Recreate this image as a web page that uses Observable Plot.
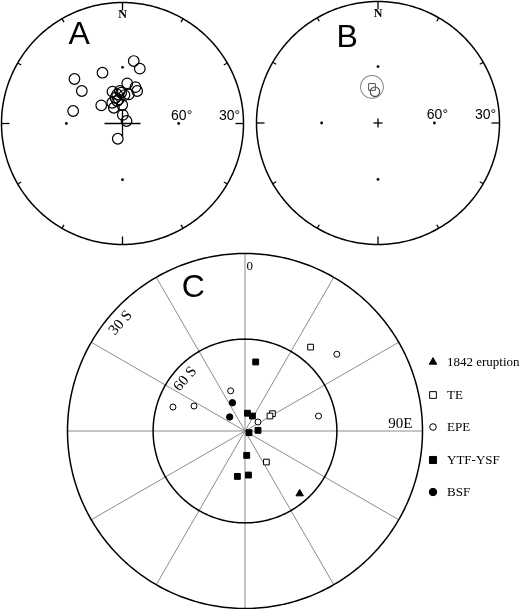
<!DOCTYPE html>
<html><head><meta charset="utf-8">
<script src="https://cdn.jsdelivr.net/npm/d3@7"></script>
<script src="https://cdn.jsdelivr.net/npm/@observablehq/plot@0.6"></script>
<style>
html,body{margin:0;padding:0;background:#fff;}
#root{position:relative;width:520px;height:609px;overflow:hidden;background:#fff;}
#root .panel{position:absolute;will-change:transform;}
#root svg{max-width:none;}
#root text{-webkit-font-smoothing:antialiased;}
.leg{position:absolute;will-change:transform;font-family:"Liberation Serif","Times New Roman",serif;font-size:13px;color:#000;height:16px;line-height:16px;white-space:nowrap;}
.leg svg{position:absolute;left:-20px;top:1px;}
</style></head><body><div id="root"></div>
<script>
// ---------------- DATA ----------------
// Panel A: site-mean directions (declination, inclination in degrees)
const aDec = [10.2, 17.5, 312.8, 338.5, 308.6, 284.2, 310.5, 6.7, 19.6, 24.3, 12.2, 342.5, 349.7, 357.6, 344.8, 351.3, 331.2, 359.1, 2.0, 58.0, 197.2, 346.7, 4.0, 355.3, 333.7];
const aInc = [56.3, 59.3, 55.3, 60.8, 62.1, 62.7, 74.8, 68.2, 69.1, 70.7, 73.8, 71.9, 73.9, 73.3, 75.5, 76.7, 80.2, 79.9, 85.3, 87.4, 81.3, 77.4, 74.5, 72.3, 77.4];
// Panel B: overall mean (square) with a95 cone, and reference direction (circle)
const bMeanDec = [350.5], bMeanInc = [70.3], bA95 = [6];
const bRefDec = [354.5], bRefInc = [73.0];
// Panel C: groups, azimuths and inclinations
const cGroups = ["1842 eruption", "TE", "EPE", "YTF-YSF", "BSF"];
const cAz = [
  [138.9],
  [38.0, 57.7, 59.0, 145.4],
  [50.1, 340.3, 288.4, 296.1, 78.5, 55.3],
  [8.8, 7.7, 26.3, 113, 87, 176, 189.5, 175.6],
  [336, 312.5]
];
const cInc = [
  [62.9],
  [55.1, 79.5, 80.6, 77.8],
  [50.6, 76.2, 65.3, 71.6, 65.6, 84.9],
  [67.3, 84.2, 84.6, 88.6, 85.8, 82.1, 75.1, 75.7],
  [80.0, 83.3]
];
// grid / label values
const tickAz = [0, 30, 60, 90, 120, 150, 180, 210, 240, 270, 300, 330];
const gridDotAz = [0, 90, 180, 270];
const stereoIncLabels = ["60°", "30°"];
const stereoIncLabelVals = [60, 30];
const cRadialAz = [0, 30, 60, 90, 120, 150, 180, 210, 240, 270, 300, 330];
const cCircleInc = [30, 60];

// ---------------- STYLE ----------------
const cSymbol = ["triangle", "square", "circle", "square", "circle"];
const cFilled = [true, false, false, true, true];
const cRadius = [2.8, 3.8, 3.3, 4.0, 3.7];
const incLabelDx = [3, -14];

// ---------------- PROJECTIONS ----------------
const rad = Math.PI / 180;
const TAN30 = Math.tan(30 * rad), SIN30 = Math.sin(30 * rad);
const wulff = (dec, inc) => { const r = Math.tan((90 - inc) / 2 * rad) / TAN30; return [r * Math.sin(dec * rad), r * Math.cos(dec * rad)]; };
const schmidt = (az, inc) => { const r = Math.sin((90 - inc) / 2 * rad) / SIN30; return [r * Math.sin(az * rad), r * Math.cos(az * rad)]; };
function smallCircle(dec, inc, a) {
  const D = dec * rad, I = inc * rad, A = a * rad;
  const m = [Math.cos(I) * Math.sin(D), Math.cos(I) * Math.cos(D), Math.sin(I)];
  const u = [Math.cos(D), -Math.sin(D), 0];
  const v = [m[1] * u[2] - m[2] * u[1], m[2] * u[0] - m[0] * u[2], m[0] * u[1] - m[1] * u[0]];
  return d3.range(0, 361, 4).map(t => {
    const T = t * rad;
    const p = m.map((mi, k) => Math.cos(A) * mi + Math.sin(A) * (Math.cos(T) * u[k] + Math.sin(T) * v[k]));
    return wulff(Math.atan2(p[0], p[1]) / rad, Math.asin(p[2]) / rad);
  });
}
const ring = d3.range(0, 361, 1);

const root = document.getElementById("root");
function place(svg, left, top) {
  const div = document.createElement("div");
  div.className = "panel"; div.style.left = left + "px"; div.style.top = top + "px";
  div.appendChild(svg); root.appendChild(div);
}
function panelPlot(R, pad, marks) {
  const ext = (R + pad) / R, size = 2 * (R + pad);
  return Plot.plot({
    width: size, height: size, margin: 0,
    x: {domain: [-ext, ext], axis: null}, y: {domain: [-ext, ext], axis: null},
    style: "background:none;overflow:visible;max-width:none;",
    marks
  });
}
const SANS = "Liberation Sans, Arial, sans-serif";
const SERIF = "Liberation Serif, Times New Roman, serif";

function stereoFrame(R, pad, cx, cy, letter, letterX, letterY, crossH, crossV) {
  const ticks = tickAz.map(a => ({a, len: (a % 90 === 0 ? 8 : 4) / R}));
  return [
    Plot.line(ring, {x: a => Math.sin(a * rad), y: a => Math.cos(a * rad), stroke: "black", strokeWidth: 1.5}),
    Plot.link(ticks, {x1: d => Math.sin(d.a * rad), y1: d => Math.cos(d.a * rad), x2: d => (1 - d.len) * Math.sin(d.a * rad), y2: d => (1 - d.len) * Math.cos(d.a * rad), stroke: "black", strokeWidth: 1.3}),
    Plot.dot(gridDotAz, {x: a => wulff(a, 60)[0], y: a => wulff(a, 60)[1], r: 1.4, fill: "black", stroke: "none"}),
    Plot.link([0], {x1: () => -crossH / R, x2: () => crossH / R, y1: () => 0, y2: () => 0, stroke: "black", strokeWidth: 1.3}),
    Plot.link([0], {x1: () => 0, x2: () => 0, y1: () => -crossV / R, y2: () => crossV / R, stroke: "black", strokeWidth: 1.3}),
    Plot.text(["N"], {x: () => 0, y: () => 1, dy: 12, text: d => d, fontFamily: SERIF, fontWeight: "bold", fontSize: 12, lineAnchor: "middle", fill: "black"}),
    ...stereoIncLabelVals.map((v, i) => Plot.text([v], {x: v => wulff(90, v)[0], y: v => wulff(90, v)[1], text: () => stereoIncLabels[i], dx: incLabelDx[i], dy: -4, fontFamily: SANS, fontSize: 14, lineAnchor: "bottom", fill: "black"})),
    Plot.text([letter], {frameAnchor: "top-left", dx: letterX - (cx - R - pad), dy: letterY - (cy - R - pad), text: d => d, fontFamily: SANS, fontSize: 32, textAnchor: "start", lineAnchor: "bottom", fill: "black"})
  ];
}

// ---------- Panel A ----------
const RA = 121, padA = 4, cxA = 122, cyA = 122.5;
const aData = aDec.map((d, i) => ({dec: d, inc: aInc[i]}));
const marksA = stereoFrame(RA, padA, cxA, cyA, "A", 68, 43, 18, 13);
marksA.push(Plot.dot(aData, {x: d => wulff(d.dec, d.inc)[0], y: d => wulff(d.dec, d.inc)[1], r: 5.3, stroke: "black", strokeWidth: 1.2, fill: "none"}));
place(panelPlot(RA, padA, marksA), cxA - RA - padA, cyA - RA - padA);

// ---------- Panel B ----------
const RB = 121.5, padB = 4, cxB = 377.5, cyB = 122.5;
const marksB = stereoFrame(RB, padB, cxB, cyB, "B", 336, 46, 4.5, 4.5);
marksB.push(
  Plot.line(smallCircle(bMeanDec[0], bMeanInc[0], bA95[0]), {x: p => p[0], y: p => p[1], stroke: "#8a8a8a", strokeWidth: 1.1}),
  Plot.dot(bMeanDec.map((d, i) => ({dec: d, inc: bMeanInc[i]})), {x: d => wulff(d.dec, d.inc)[0], y: d => wulff(d.dec, d.inc)[1], symbol: "square", r: 3.8, stroke: "#555", strokeWidth: 1, fill: "none"}),
  Plot.dot(bRefDec.map((d, i) => ({dec: d, inc: bRefInc[i]})), {x: d => wulff(d.dec, d.inc)[0], y: d => wulff(d.dec, d.inc)[1], r: 4.7, stroke: "#444", strokeWidth: 1.1, fill: "none"})
);
place(panelPlot(RB, padB, marksB), cxB - RB - padB, cyB - RB - padB);

// ---------- Panel C ----------
const RC = 177.5, padC = 3, cxC = 244.3, cyC = 430;
const cData = [];
cGroups.forEach((g, gi) => cAz[gi].forEach((az, k) => cData.push({g, gi, az, inc: cInc[gi][k]})));
const circleRings = cCircleInc.flatMap(inc => ring.map(a => ({inc, a})));
const inset = (az, inc, px) => { const p = schmidt(az, inc); const r = Math.hypot(p[0], p[1]); const f = (r - px / RC) / r; return [p[0] * f, p[1] * f]; };
const marksC = [
  Plot.link(cRadialAz, {x1: () => 0, y1: () => 0, x2: a => schmidt(a, 30)[0], y2: a => schmidt(a, 30)[1], stroke: "#8c8c8c", strokeWidth: 1}),
  Plot.line(circleRings, {x: d => schmidt(d.a, d.inc)[0], y: d => schmidt(d.a, d.inc)[1], z: "inc", stroke: "black", strokeWidth: 1.5}),
  Plot.dot(cData, {x: d => schmidt(d.az, d.inc)[0], y: d => schmidt(d.az, d.inc)[1], symbol: d => cSymbol[d.gi], r: d => cRadius[d.gi], fill: d => cFilled[d.gi] ? "black" : "white", stroke: "black", strokeWidth: 1}),
  Plot.text(["0"], {x: () => 0, y: () => 1, dx: 4.7, dy: 12, text: d => d, fontFamily: SERIF, fontSize: 13, lineAnchor: "middle", textAnchor: "middle", fill: "black"}),
  Plot.text(["90E"], {x: () => 1, y: () => 0, dx: -10, dy: -3.5, text: d => d, fontFamily: SERIF, fontSize: 15, lineAnchor: "bottom", textAnchor: "end", fill: "black"}),
  Plot.text(cCircleInc, {x: v => inset(311, v, 12)[0], y: v => inset(311, v, 12)[1], text: v => v + " S", rotate: -49, fontFamily: SERIF, fontSize: 15, lineAnchor: "middle", textAnchor: "middle", fill: "black"}),
  Plot.text(["C"], {frameAnchor: "top-left", dx: 181 - (cxC - RC - padC), dy: 296 - (cyC - RC - padC), text: d => d, fontFamily: SANS, fontSize: 32, textAnchor: "start", lineAnchor: "bottom", fill: "black"})
];
place(panelPlot(RC, padC, marksC), cxC - RC - padC, cyC - RC - padC);

// ---------- Legend ----------
const d3sym = {triangle: d3.symbolTriangle, square: d3.symbolSquare, circle: d3.symbolCircle};
cGroups.forEach((g, i) => {
  const div = document.createElement("div");
  div.className = "leg";
  div.style.left = "447px";
  div.style.top = (362 + i * 32.5 - 8) + "px";
  const s = 14;
  const path = d3.symbol(d3sym[cSymbol[i]], Math.PI * cRadius[i] * cRadius[i])();
  div.innerHTML = `<svg width="${s}" height="${s}" viewBox="${-s/2} ${-s/2} ${s} ${s}" style="left:${433 - 447 - s/2}px;top:${8 - s/2}px"><path d="${path}" fill="${cFilled[i] ? "black" : "white"}" stroke="black" stroke-width="1"/></svg>` ;
  const span = document.createElement("span"); span.textContent = g; div.appendChild(span);
  root.appendChild(div);
});
</script></body></html>
